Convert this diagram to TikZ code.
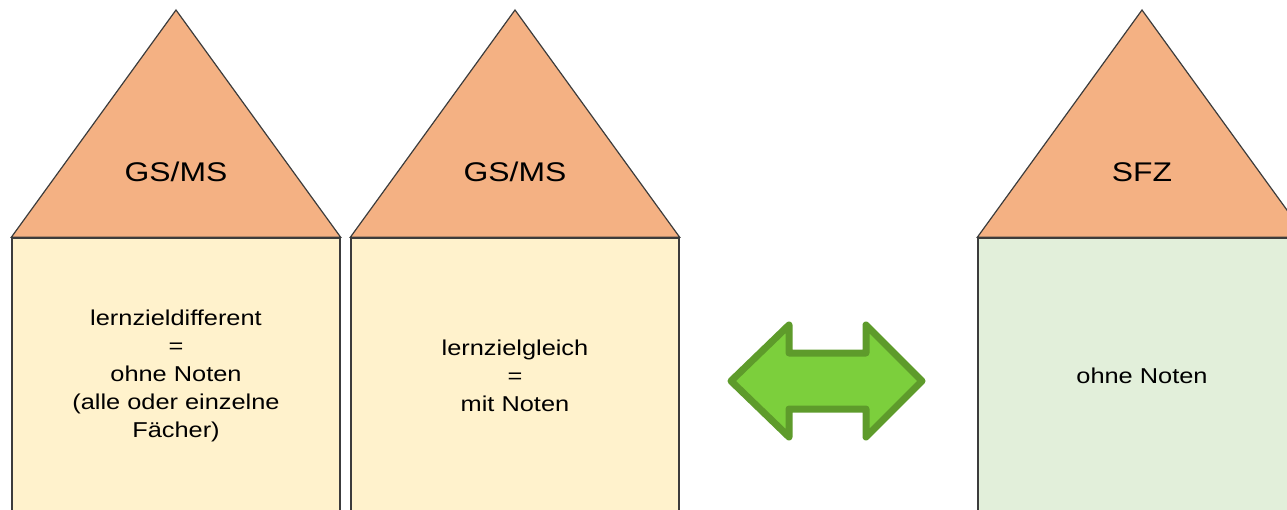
\documentclass[tikz,border=0pt]{standalone}
\usepackage{fontspec}
\setmainfont[FakeStretch=1.18]{Liberation Sans}
\usepackage{tikz}
\definecolor{RoofColor}{RGB}{244,177,131}
\definecolor{WallColorA}{RGB}{255,242,204}
\definecolor{WallColorB}{RGB}{226,239,218}
\definecolor{EdgeColor}{RGB}{60,60,60}
\definecolor{ArrowFill}{RGB}{124,207,60}
\definecolor{ArrowEdge}{RGB}{94,155,43}

\begin{document}
\begin{tikzpicture}[x=1pt,y=-1pt,
  wall/.style={draw=EdgeColor,line width=1.4pt,fill=#1,rectangle,minimum width=328pt,minimum height=276pt,inner sep=0pt,align=center,font=\fontsize{21.5}{28}\selectfont},
  roof/.style={draw=EdgeColor,line width=1.2pt,fill=RoofColor,line join=miter},
  rooftext/.style={font=\fontsize{27}{32}\selectfont,inner sep=0pt}]
    \useasboundingbox (0,0) rectangle (1287,509);
    \clip (0,0) rectangle (1287,509);
    % walls
    \node[wall=WallColorA](w1) at (176,376) {lernzieldifferent\\=\\ohne Noten\\(alle oder einzelne\\F\"acher)};
    \node[wall=WallColorA](w2) at (515,376) {lernzielgleich\\=\\mit Noten};
    \node[wall=WallColorB](w3) at (1142,376) {ohne Noten};
    % roofs
    \foreach \w/\x/\t in {w1/176/{GS/MS},w2/515/{GS/MS},w3/1142/SFZ} {
       \draw[roof] (\w.north west) -- (\x,10) -- (\w.north east) -- cycle;
       \node[rooftext](r\w) at (\x,172) {\t};
    }
    % double arrow
    \draw[line width=7pt,line join=round,draw=ArrowEdge,fill=ArrowFill]
       (731,381) -- (789,325) -- (789,353) -- (866,353) -- (866,325)
       -- (922,381) -- (866,437) -- (866,409) -- (789,409) -- (789,437) -- cycle;
\end{tikzpicture}
\end{document}
